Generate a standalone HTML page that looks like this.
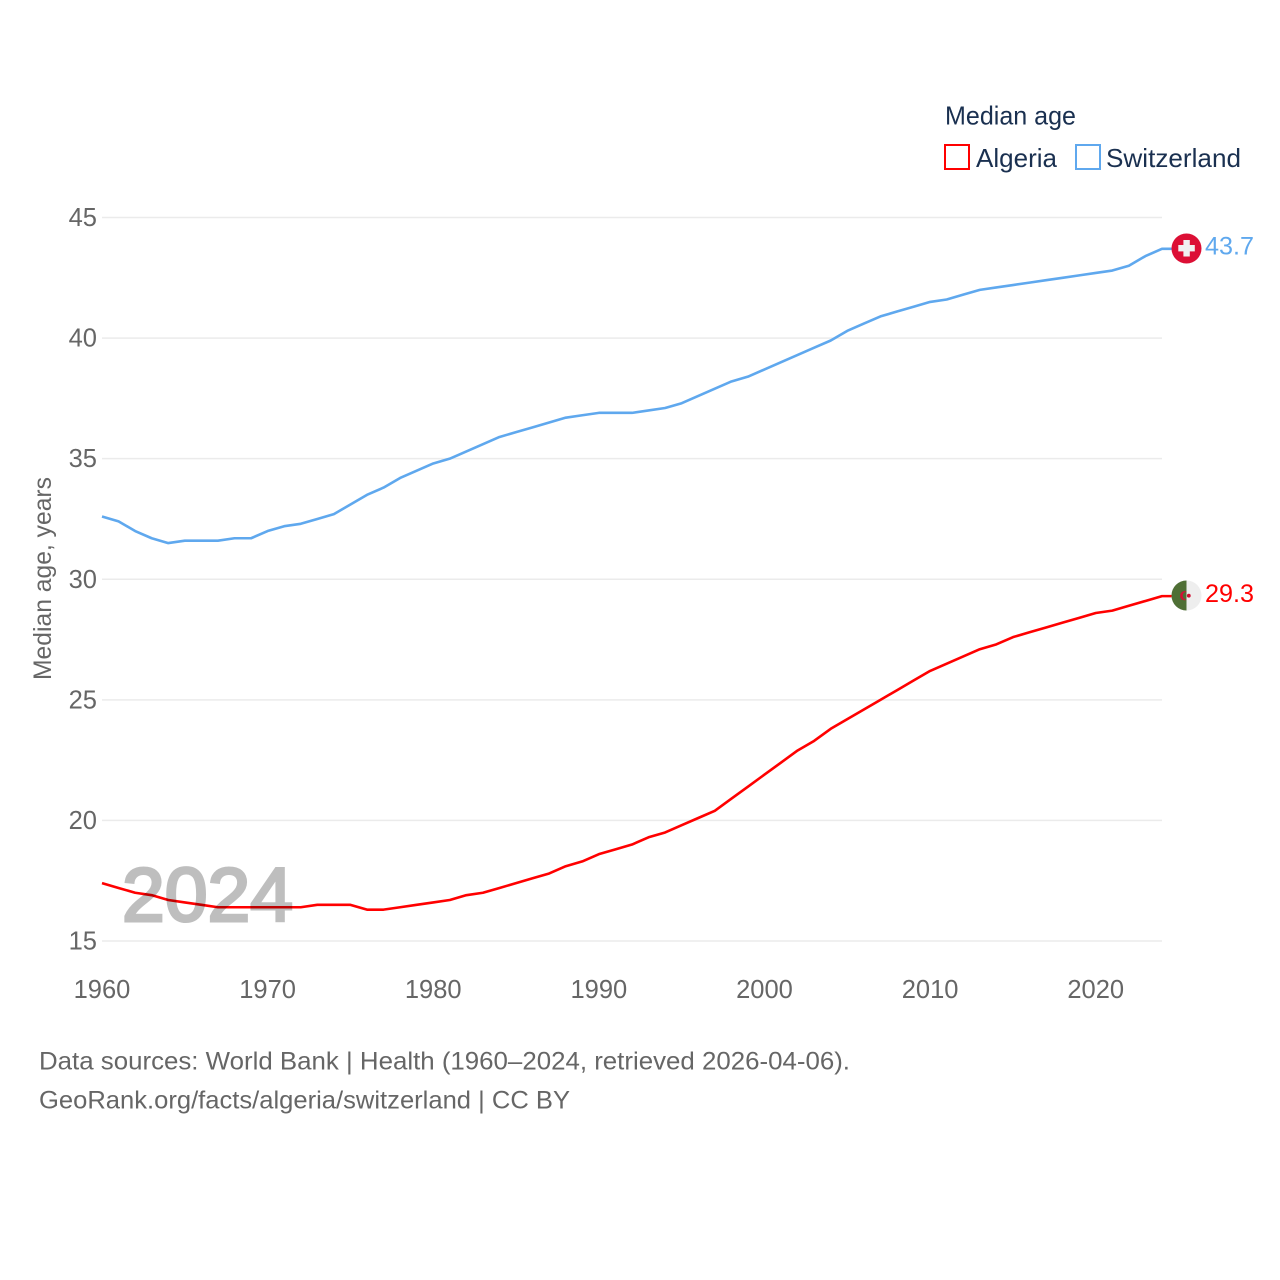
<!DOCTYPE html>
<html lang="en">
<head>
<meta charset="utf-8">
<title>Median age: Algeria and Switzerland</title>
<style>
html,body{margin:0;padding:0;background:#fff;width:1280px;height:1280px;overflow:hidden}
svg{display:block}
text{font-family:"Liberation Sans",sans-serif}
</style>
</head>
<body>
<svg id="chart" xmlns="http://www.w3.org/2000/svg" width="1280" height="1280" viewBox="0 0 1280 1280">
  <g id="grid"></g>
  <g id="yticks"></g>
  <g id="xticks"></g>
  <text transform="translate(51,680) rotate(-90)" font-size="25" fill="#666" textLength="203" lengthAdjust="spacingAndGlyphs">Median age, years</text>
  <g id="series"></g>
  <text x="122" y="921" font-size="76" fill="#000" stroke="#000" stroke-width="3" opacity="0.25" textLength="171" lengthAdjust="spacingAndGlyphs">2024</text>

  <g>
    <circle cx="1186.5" cy="248.5" r="15" fill="#dc0f35"/>
    <rect x="1183.4" y="240" width="6.4" height="16.5" fill="#f0f0f0"/>
    <rect x="1178.3" y="245" width="16.5" height="6.4" fill="#f0f0f0"/>
  </g>
  <g>
    <circle cx="1186.5" cy="595.5" r="15" fill="#eeeeee"/>
    <path d="M1186.5 580.5a15 15 0 0 0 0 30z" fill="#4f6f35"/>
    <path d="M1186.8 591.6a4.6 4.6 0 1 0 0 8.2a3.8 3.8 0 1 1 0-8.2z" fill="#d21034"/>
    <circle cx="1188.8" cy="595.7" r="1.9" fill="#d21034"/>
  </g>
  <text id="switzerland-value" x="1205" y="254.5" font-size="25" fill="#5fa8ee" textLength="49" lengthAdjust="spacingAndGlyphs"></text>
  <text id="algeria-value" x="1205" y="602" font-size="25" fill="#ff0000" textLength="49" lengthAdjust="spacingAndGlyphs"></text>

  <g>
    <text x="945" y="124.5" font-size="26" fill="#1a3050" textLength="131" lengthAdjust="spacingAndGlyphs">Median age</text>
    <g>
      <rect x="945" y="145" width="24" height="24" fill="#fff" stroke="#ff0000" stroke-width="2"/>
      <text x="976" y="167" font-size="26" fill="#1a3050" textLength="81" lengthAdjust="spacingAndGlyphs">Algeria</text>
    </g>
    <g>
      <rect x="1076" y="145" width="24" height="24" fill="#fff" stroke="#5fa8ee" stroke-width="2"/>
      <text x="1106" y="167" font-size="26" fill="#1a3050" textLength="135" lengthAdjust="spacingAndGlyphs">Switzerland</text>
    </g>
  </g>

  <g>
    <text x="39" y="1069.5" font-size="25" fill="#666" textLength="811" lengthAdjust="spacingAndGlyphs">Data sources: World Bank | Health (1960–2024, retrieved 2026-04-06).</text>
    <text x="39" y="1108.5" font-size="25" fill="#666" textLength="531" lengthAdjust="spacingAndGlyphs">GeoRank.org/facts/algeria/switzerland | CC BY</text>
  </g>
</svg>
<script>
const startYear = 1960;
const xTickLabels = [1960, 1970, 1980, 1990, 2000, 2010, 2020];
const yTickLabels = [15, 20, 25, 30, 35, 40, 45];
const switzerlandValues = [32.6,32.4,32.0,31.7,31.5,31.6,31.6,31.6,31.7,31.7,32.0,32.2,32.3,32.5,32.7,33.1,33.5,33.8,34.2,34.5,34.8,35.0,35.3,35.6,35.9,36.1,36.3,36.5,36.7,36.8,36.9,36.9,36.9,37.0,37.1,37.3,37.6,37.9,38.2,38.4,38.7,39.0,39.3,39.6,39.9,40.3,40.6,40.9,41.1,41.3,41.5,41.6,41.8,42.0,42.1,42.2,42.3,42.4,42.5,42.6,42.7,42.8,43.0,43.4,43.7];
const algeriaValues = [17.4,17.2,17.0,16.9,16.7,16.6,16.5,16.4,16.4,16.4,16.4,16.4,16.4,16.5,16.5,16.5,16.3,16.3,16.4,16.5,16.6,16.7,16.9,17.0,17.2,17.4,17.6,17.8,18.1,18.3,18.6,18.8,19.0,19.3,19.5,19.8,20.1,20.4,20.9,21.4,21.9,22.4,22.9,23.3,23.8,24.2,24.6,25.0,25.4,25.8,26.2,26.5,26.8,27.1,27.3,27.6,27.8,28.0,28.2,28.4,28.6,28.7,28.9,29.1,29.3];

const NS = 'http://www.w3.org/2000/svg';
const plotLeft = 102, plotRight = 1162, plotTop = 217.5, plotBottom = 941;
const xScale = year => plotLeft + (year - 1960) * (plotRight - plotLeft) / 64;
const yScale = v => plotBottom - (v - 15) * (plotBottom - plotTop) / 30;

function make(tag, attrs, parent, content) {
  const el = document.createElementNS(NS, tag);
  for (const k in attrs) el.setAttribute(k, attrs[k]);
  if (content !== undefined) el.textContent = content;
  parent.appendChild(el);
  return el;
}

const grid = document.getElementById('grid');
const yticks = document.getElementById('yticks');
const xticks = document.getElementById('xticks');
const seriesGroup = document.getElementById('series');

yTickLabels.forEach(v => {
  const line = make('line', {x1: plotLeft, x2: plotRight, y1: yScale(v), y2: yScale(v), stroke: '#ebebeb', 'stroke-width': 1.5}, grid);
  
  
  const label = make('text', {x: 97, y: yScale(v) + 8.5, 'text-anchor': 'end', 'font-size': 25.5, fill: '#666'}, yticks, String(v));
  
  
});

xTickLabels.forEach(year => {
  const label = make('text', {x: xScale(year), y: 998, 'text-anchor': 'middle', 'font-size': 25.5, fill: '#666'}, xticks, String(year));
  
  
});

function drawSeries(values, color, name, valueId) {
  const pts = values.map((v, i) => xScale(startYear + i).toFixed(2) + ',' + yScale(v).toFixed(2));
  const last = values[values.length - 1];
  pts.push('1172,' + yScale(last).toFixed(2));
  const line = make('polyline', {points: pts.join(' '), fill: 'none', stroke: color, 'stroke-width': 2.6, 'stroke-linejoin': 'round'}, seriesGroup);
  
  
  document.getElementById(valueId).textContent = last.toFixed(1);
}

drawSeries(switzerlandValues, '#5fa8ee', 'switzerland-line', 'switzerland-value');
drawSeries(algeriaValues, '#ff0000', 'algeria-line', 'algeria-value');
</script>
</body>
</html>
